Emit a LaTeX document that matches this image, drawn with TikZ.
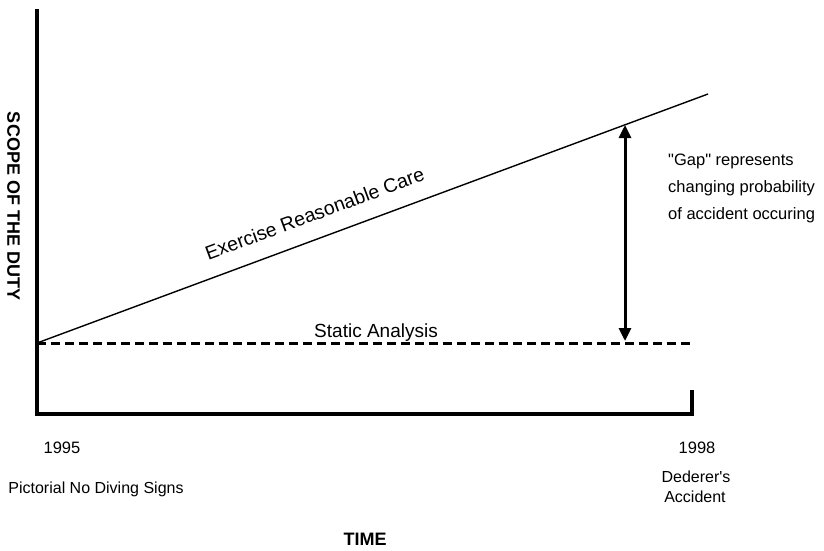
\documentclass[tikz,border=0pt]{standalone}
\usepackage{fontspec}
\setmainfont{Liberation Sans}
\newfontfamily\af{Liberation Sans}
\usetikzlibrary{arrows.meta}
\begin{document}
\begin{tikzpicture}[x=1pt,y=-1pt,
  axisline/.style={line width=4pt},
  dutyline/.style={line width=1.4pt},
  staticline/.style={line width=3pt, dash pattern=on 9pt off 5pt},
  gaparrow/.style={line width=3pt, {Triangle[width=12pt,length=13pt]}-{Triangle[width=12pt,length=13pt]}},
  lbl/.style={inner sep=0pt, anchor=base, font=\af\fontsize{16.5}{19}\selectfont},
  small/.style={inner sep=0pt, anchor=base, font=\af\fontsize{16}{20}\selectfont},
  axtitle/.style={inner sep=0pt, font=\af\fontsize{18}{20}\selectfont\bfseries}]
\useasboundingbox (0,0) rectangle (824,550);
% axes
\coordinate (ytop) at (37,9);
\coordinate (origin) at (37,414);
\coordinate (xend) at (692,414);
\coordinate (xtick) at (692,390);
\draw[axisline] (ytop) -- (origin) -- (xend) -- (xtick);
% lines
\coordinate (s0) at (37,343);
\coordinate (s1) at (708,94);
\coordinate (d1) at (692,343);
\draw[dutyline] (s0) -- (s1);
\draw[staticline] (s0) -- (d1);
% gap arrow
\coordinate (gtop) at (625,125);
\coordinate (gbot) at (625,341);
\draw[gaparrow] (gbot) -- (gtop);
% labels
\node[inner sep=0pt, font=\af\fontsize{19.5}{20}\selectfont, anchor=base, rotate=20.36] (care) at (317,220) {Exercise Reasonable Care};
\node[inner sep=0pt, font=\af\fontsize{19}{20}\selectfont, anchor=base] (static) at (376,337) {Static Analysis};
\node[inner sep=0pt, anchor=west, align=left, font=\af\fontsize{16.5}{27}\selectfont] (gap) at (668,188) {"Gap" represents\\changing probability\\of accident occuring};
\node[axtitle, rotate=-90] (scope) at (13.5,206) {SCOPE OF THE DUTY};
\node[axtitle, anchor=base] (time) at (365,545) {TIME};
\node[lbl] (y95) at (62,453) {1995};
\node[lbl] (y98) at (697,453) {1998};
\node[small] (signs) at (96,493) {Pictorial No Diving Signs};
\node[small] (dede) at (696,482) {Dederer's};
\node[small] (acc) at (695,502) {Accident};
\end{tikzpicture}
\end{document}
